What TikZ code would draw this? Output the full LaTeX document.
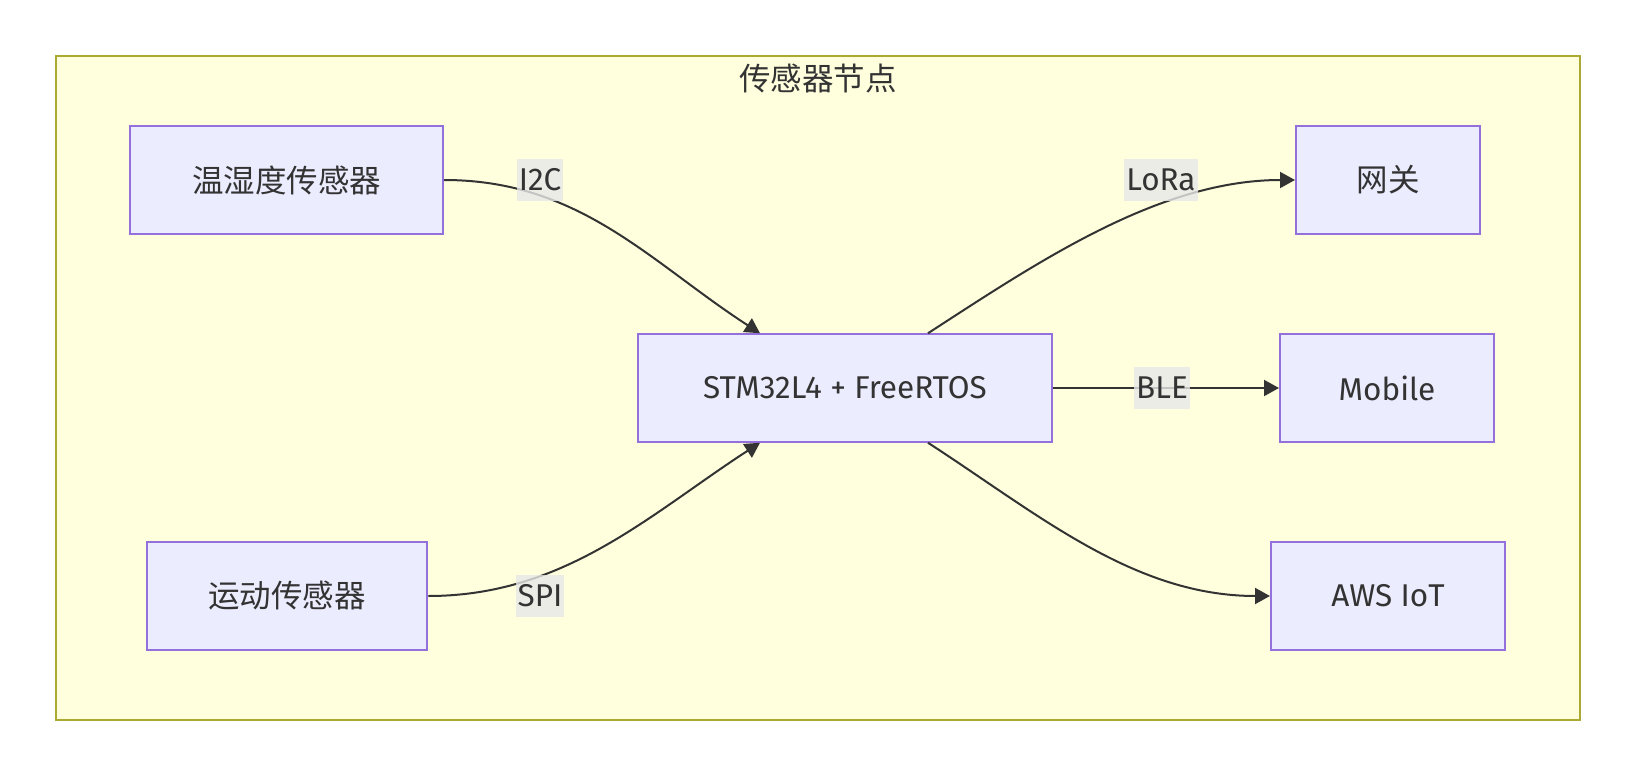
\documentclass[tikz,border=0pt]{standalone}
\usepackage{fontspec}
\setmainfont{Fira Sans}
\newfontfamily\cjk{Noto Sans CJK SC}
\usetikzlibrary{arrows.meta}
\definecolor{ndFill}{HTML}{ECECFF}
\definecolor{ndLine}{HTML}{9370DB}
\definecolor{clFill}{HTML}{FFFFDE}
\definecolor{clLine}{HTML}{AAAA33}
\definecolor{txtGray}{HTML}{333333}
\definecolor{lblFill}{HTML}{E8E8E8}

\begin{document}
\begin{tikzpicture}[
    x=0.5pt, y=-0.5pt,
    >={Triangle[length=7.5pt, width=8pt]},
    font=\fontsize{15.75pt}{19pt}\selectfont,
    cluster/.style={rectangle, draw=clLine, line width=1pt, fill=clFill, minimum width=762pt, minimum height=332pt},
    unit/.style={rectangle, draw=ndLine, line width=1pt, fill=ndFill, text=txtGray, minimum height=53.75pt, inner sep=0pt},
    link/.style={->, draw=txtGray, line width=1pt},
    link note/.style={fill=lblFill, fill opacity=0.8, text opacity=1, text=txtGray, inner xsep=1pt, inner ysep=0pt, minimum height=20.75pt}
]
  \useasboundingbox (0,0) rectangle (1635,776);
  \fill[white] (0,0) rectangle (1635,776);

  % subgraph frame
  \node[cluster] (sensornode) at (818,388) {};
  \node[text=txtGray] (sensortitle) at (818,78) {\cjk 传感器节点};

  \node[unit, minimum width=156.5pt] (temp) at (286.5,180) {\cjk 温湿度传感器};
  \node[unit, minimum width=140.25pt] (motion) at (287,596) {\cjk 运动传感器};
  \node[unit, minimum width=207pt] (mcu) at (845,388) {STM32L4 + FreeRTOS};
  \node[unit, minimum width=92pt] (gateway) at (1388,180) {\cjk 网关};
  \node[unit, minimum width=107pt] (mobile) at (1387,388) {Mobile};
  \node[unit, minimum width=117pt] (aws) at (1388,596) {AWS IoT};

  % links
  \draw[link] (temp.east) .. controls (580,180) and (650,262) .. ([xshift=-42.5pt]mcu.north);
  \draw[link] (motion.east) .. controls (565,596) and (650,514) .. ([xshift=-42.5pt]mcu.south);
  \draw[link] ([xshift=41.5pt]mcu.north) .. controls (1038,262) and (1159,180) .. (gateway.west);
  \draw[link] (mcu.east) -- (mobile.west);
  \draw[link] ([xshift=41.5pt]mcu.south) .. controls (1038,514) and (1134,596) .. (aws.west);

  \node[link note] (i2c) at (540,180) {I2C};
  \node[link note] (spi) at (540,596) {SPI};
  \node[link note] (lora) at (1161,180) {LoRa};
  \node[link note] (ble) at (1162,388) {BLE};
\end{tikzpicture}
\end{document}
